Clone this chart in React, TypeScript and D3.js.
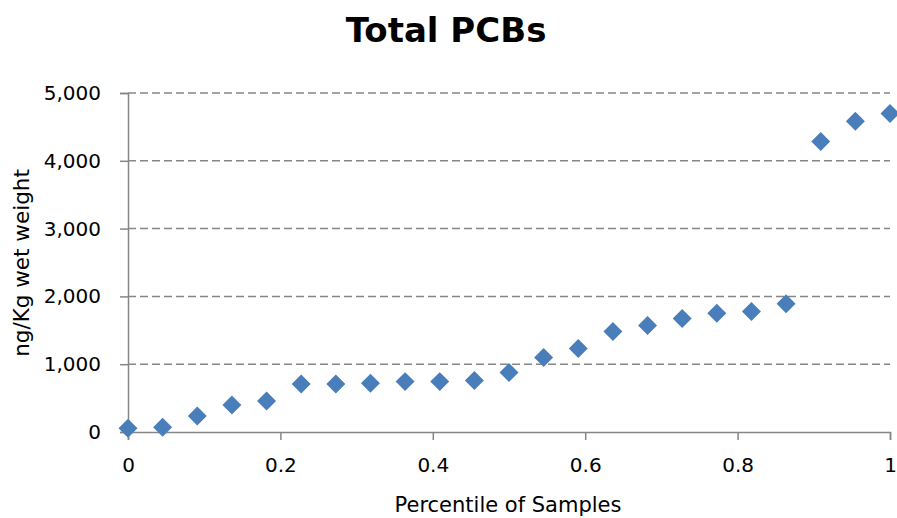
import React, { useEffect, useRef } from 'react';
import * as d3 from 'd3';

// percentile positions are i/22
const percentiles = d3.range(23).map(i => i / 22);
const pcbValues = [
    55, 70, 236, 399, 458, 709, 709, 719, 743, 743, 758, 876,
    1098, 1231, 1482, 1570, 1674, 1753, 1777, 1891, 4284, 4584, 4697,
];
const yTicks = [0, 1000, 2000, 3000, 4000, 5000];
const xTicks = [0, 0.2, 0.4, 0.6, 0.8, 1];

const title = 'Total PCBs';
const xLabel = 'Percentile of Samples';
const yLabel = 'ng/Kg wet weight';

export default function App() {
    const svgRef = useRef<SVGSVGElement>(null);
    const width = 897;
    const height = 518;

    useEffect(() => {
        if (!svgRef.current) return;
        const svg = d3.select(svgRef.current);
        svg.selectAll('*').remove();

        const font = "'DejaVu Sans', sans-serif";
        const axisColor = '#868686';
        const margin = { top: 93, right: 7, bottom: 86, left: 128 };

        const x = d3.scaleLinear().domain([0, 1]).range([margin.left, width - margin.right]);
        const y = d3.scaleLinear().domain([0, 5000]).range([height - margin.bottom, margin.top]);

        // Title
        svg.append('text')
            .attr('x', 446)
            .attr('y', 42)
            .attr('text-anchor', 'middle')
            .style('font-family', font)
            .style('font-weight', 'bold')
            .style('font-size', '34px')
            .style('fill', '#000')
            .text(title);

        // Gridlines (dashed)
        svg.append('g')
            .selectAll('line')
            .data(yTicks.filter(t => t > 0))
            .enter().append('line')
            .attr('x1', x(0))
            .attr('x2', x(1))
            .attr('y1', d => y(d))
            .attr('y2', d => y(d))
            .attr('stroke', axisColor)
            .attr('stroke-width', 1.5)
            .attr('stroke-dasharray', '8,4');

        // Y axis
        const yAxis = svg.append('g')
            .attr('transform', `translate(${x(0)},0)`)
            .call(d3.axisLeft(y).tickValues(yTicks).tickSize(8).tickPadding(19)
                .tickFormat(d => d3.format(',')(d as number)));
        yAxis.select('.domain').attr('stroke', axisColor).attr('stroke-width', 1.5);
        yAxis.selectAll('.tick line').attr('stroke', axisColor).attr('stroke-width', 1.5);
        yAxis.selectAll('.tick text')
            .style('font-family', font)
            .style('font-size', '20px')
            .attr('fill', '#000');

        // X axis
        const xAxis = svg.append('g')
            .attr('transform', `translate(0,${y(0)})`)
            .call(d3.axisBottom(x).tickValues(xTicks).tickSize(8).tickPadding(18)
                .tickFormat(d => String(d)));
        xAxis.select('.domain').attr('stroke', axisColor).attr('stroke-width', 1.5);
        xAxis.selectAll('.tick line').attr('stroke', axisColor).attr('stroke-width', 1.5);
        xAxis.selectAll('.tick text')
            .style('font-family', font)
            .style('font-size', '20px')
            .attr('fill', '#000');

        // Axis titles (x title sits at the very bottom edge, as in the source)
        svg.append('text')
            .attr('x', 508)
            .attr('y', 512)
            .attr('text-anchor', 'middle')
            .style('font-family', font)
            .style('font-size', '21px')
            .style('fill', '#000')
            .text(xLabel);

        svg.append('text')
            .attr('transform', 'translate(29,263) rotate(-90)')
            .attr('text-anchor', 'middle')
            .style('font-family', font)
            .style('font-size', '21.5px')
            .style('fill', '#000')
            .text(yLabel);

        // Diamond markers
        const diamond = d3.symbol().type(d3.symbolSquare).size(180);
        svg.append('g')
            .selectAll('path')
            .data(percentiles.map((p, i) => ({ p, v: pcbValues[i] })))
            .enter().append('path')
            .attr('d', diamond)
            .attr('transform', d => `translate(${x(d.p)},${y(d.v)}) rotate(45)`)
            .attr('fill', '#4a7ebb');
    }, []);

    return (
        <div style={{ position: 'fixed', left: 0, top: 0, width, height, background: '#fff' }}>
            <svg ref={svgRef} width={width} height={height} style={{ display: 'block' }} />
        </div>
    );
}
